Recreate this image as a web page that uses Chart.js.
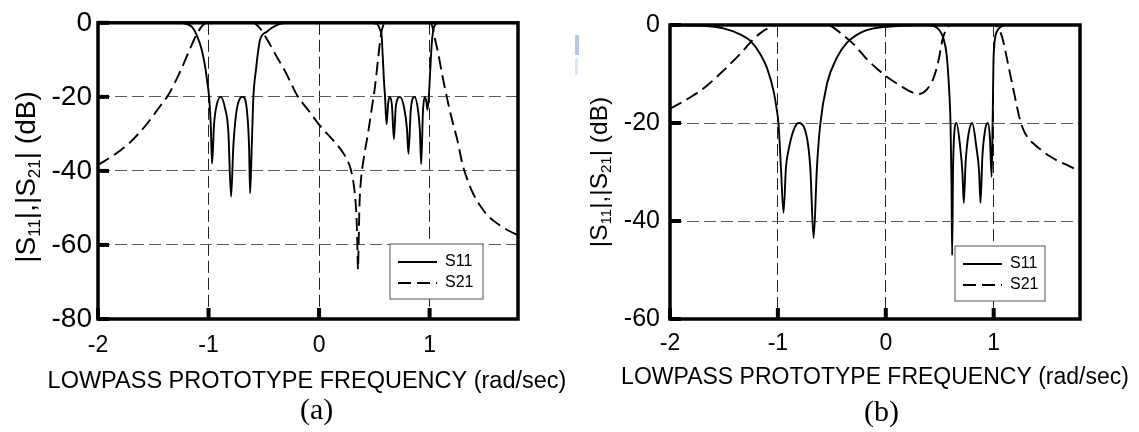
<!DOCTYPE html>
<html lang="en">
<head>
<meta charset="UTF-8">
<title>Lowpass prototype responses</title>
<script src="https://cdn.jsdelivr.net/npm/chart.js"></script>
<style>
  body { margin: 0; background: #fff; }
  #wrap { position: relative; width: 1139px; height: 432px; overflow: hidden; }
  .panel { position: absolute; top: 0; height: 432px; }
  .caption { position: absolute; font-family: "Liberation Serif", "Times New Roman", serif; font-size: 30px; color: #000; line-height: 1; }
  .smudge { position: absolute; }
</style>
</head>
<body>
<div id="wrap">
  <div class="panel" style="left:0;width:570px"><canvas id="chartA" width="570" height="432"></canvas></div>
  <div class="panel" style="left:570px;width:569px"><canvas id="chartB" width="569" height="432"></canvas></div>
  <div class="caption" style="left:300px;top:394px">(a)</div>
  <div class="caption" style="left:864px;top:396px">(b)</div>
  <div class="smudge" style="left:575px;top:35px;width:4px;height:20px;background:#b7c6ea"></div>
  <div class="smudge" style="left:575px;top:58px;width:3px;height:17px;background:#dce4f5"></div>
</div>
<script>
// axis ticks
const xTicks = [-2, -1, 0, 1];
const yTicksA = [0, -20, -40, -60, -80];
const yTicksB = [0, -20, -40, -60];
const xTitle = 'LOWPASS PROTOTYPE FREQUENCY (rad/sec)';

// (a) |S11| in dB
const s11FreqA = [-2, -1.3, -1.23, -1.15, -1.107, -1.062, -1.032, -1.011, -0.995, -0.98, -0.968,
  -0.95, -0.926, -0.89, -0.851, -0.821, -0.796, -0.776, -0.751, -0.715, -0.69, -0.655, -0.633, -0.624,
  -0.609, -0.594, -0.57, -0.549, -0.534, -0.473, -0.383, -0.29, 0.45, 0.522, 0.552, 0.567, 0.576, 0.588,
  0.597, 0.611, 0.626, 0.641, 0.66, 0.677, 0.695, 0.733, 0.77, 0.795, 0.809, 0.83, 0.864, 0.895, 0.912,
  0.924, 0.94, 0.957, 0.972, 0.98, 0.992, 1.005, 1.02, 1.034, 1.059, 1.1, 1.8];
const s11A = [0, 0, -0.1, -1.1, -3.3, -7.2, -11.6, -16, -20, -27.4, -38,
  -27.4, -22.2, -20, -23, -29.2, -47, -33.6, -24.8, -20.4, -20, -23, -33.6, -46,
  -33.5, -20, -12.5, -7.2, -4.6, -2.4, -0.6, 0, 0, -0.3, -1.9, -3.7, -9, -16,
  -20, -27.4, -21.5, -20, -22.5, -31.4, -22.5, -20, -23, -28.5, -35.4, -23.5, -20, -23.5, -29,
  -38.2, -24, -20, -21.5, -23.5, -20.5, -13.4, -5.5, -1.9, -0.3, 0, 0];

// (a) |S21| in dB
const s21FreqA = [-2, -1.86, -1.71, -1.56, -1.44, -1.364, -1.26, -1.17, -1.11, -1.05, -1.0,
  -0.6, -0.534, -0.47, -0.386, -0.3, -0.254, -0.2, -0.09, 0, 0.075, 0.13, 0.206, 0.25, 0.289,
  0.315, 0.331, 0.342, 0.348, 0.352, 0.358, 0.365, 0.375, 0.4, 0.445, 0.475, 0.505, 0.535, 0.556,
  0.575, 0.61, 1.0, 1.025, 1.05, 1.08, 1.11, 1.14, 1.17, 1.21, 1.25, 1.3, 1.35, 1.4, 1.46, 1.52,
  1.58, 1.64, 1.7, 1.76, 1.8];
const s21A = [-38.4, -35.8, -32.3, -27.4, -22.6, -19.5, -13.4, -7.2, -3.3, -0.6, 0,
  0, -1.5, -4.5, -9, -13.5, -16.3, -19.5, -23.9, -27.5, -30, -31.8, -34.6, -36.8, -39.8,
  -44, -48.6, -55, -62, -66.6, -60, -50, -44, -37.5, -29.5, -23.5, -17.5, -9.5, -4,
  -1.2, 0, 0, -1, -4.5, -8.5, -13.4, -17.8, -22, -27, -31.5, -38.5, -43, -46.5, -49.5, -51.9,
  -53.5, -54.8, -55.9, -56.8, -57.4];

// (b) |S11| in dB
const s11FreqB = [-2, -1.8, -1.659, -1.505, -1.35, -1.257, -1.164, -1.102, -1.041, -1.009, -0.994,
  -0.972, -0.948, -0.925, -0.902, -0.855, -0.809, -0.747, -0.7, -0.669, -0.638, -0.607, -0.545,
  -0.452, -0.359, -0.236, -0.112, 0.043, 0.2, 0.35, 0.445, 0.491, 0.532, 0.563, 0.584, 0.6, 0.609,
  0.615, 0.623, 0.635, 0.655, 0.69, 0.71, 0.723, 0.74, 0.765, 0.801, 0.84, 0.865, 0.878, 0.895,
  0.92, 0.946, 0.965, 0.981, 0.99, 1.0, 1.033, 1.064, 1.11, 1.8];
const s11B = [0, -0.1, -0.2, -0.7, -1.9, -3.2, -5.9, -8.7, -13.4, -17.5, -20.2,
  -29, -38.3, -29, -25.6, -21.5, -20, -21.5, -29, -43.5, -29, -20.2, -12,
  -6.6, -3.6, -1.6, -0.7, -0.3, -0.1, 0, -0.2, -0.9, -2.6, -5.9, -12, -20.2, -32.3,
  -47, -30, -22, -20, -25, -30, -36.3, -28, -22.5, -20, -25, -30, -36.3, -27,
  -21.5, -20, -23, -31, -20, -6, -1.2, -0.4, 0, 0];

// (b) |S21| in dB
const s21FreqB = [-2, -1.814, -1.659, -1.505, -1.35, -1.227, -1.134, -1.041, -1.0, -0.6, -0.514,
  -0.422, -0.298, -0.174, 0, 0.136, 0.22, 0.3, 0.383, 0.445, 0.491, 0.523, 0.553, 0.584, 0.6,
  1.0, 1.04, 1.08, 1.14, 1.2, 1.24, 1.28, 1.32, 1.373, 1.45, 1.528, 1.6, 1.683, 1.8];
const s21B = [-17.1, -14.8, -12.4, -9.3, -5.9, -2.9, -1.2, -0.2, 0, 0, -0.2,
  -1.6, -3.9, -7, -10.4, -12.4, -13.5, -14.1, -13.1, -10.7, -7, -3.2, -1.2, -0.2, 0,
  0, -0.5, -2.6, -8.7, -15, -19, -21.6, -23.1, -24.3, -25.7, -26.9, -27.8, -28.6, -29.9];

const FONT = '"Liberation Sans", Arial, sans-serif';
const pairs = (xs, ys) => xs.map((x, i) => ({x: x, y: ys[i]}));

// frame, inner tick marks, boxed legend, axis titles
const framePlugin = {
  id: 'frame',
  afterDraw(chart, args, opts) {
    const {ctx, chartArea: a, scales: {x, y}} = chart;
    ctx.save();
    ctx.fillStyle = '#000';
    x.ticks.forEach(t => {
      const px = x.getPixelForValue(t.value);
      ctx.fillRect(px - 2, a.bottom - 11, 4, 11);
    });
    y.ticks.forEach(t => {
      const py = y.getPixelForValue(t.value);
      ctx.fillRect(a.left, py - 2, 11, 4);
    });
    ctx.lineWidth = 3.5;
    ctx.strokeStyle = '#000';
    ctx.strokeRect(a.left, a.top, a.right - a.left, a.bottom - a.top);

    // legend
    const L = opts.legend;
    ctx.fillStyle = '#fff';
    ctx.fillRect(L.x, L.y, L.w, L.h);
    ctx.lineWidth = 1.2;
    ctx.strokeStyle = '#707070';
    ctx.strokeRect(L.x, L.y, L.w, L.h);
    ctx.font = '16px ' + FONT;
    ctx.textBaseline = 'middle';
    ctx.textAlign = 'left';
    chart.data.datasets.forEach((ds, i) => {
      const ly = L.y + 18 + i * 21;
      ctx.beginPath();
      ctx.setLineDash(ds.borderDash || []);
      ctx.lineWidth = ds.borderWidth;
      ctx.strokeStyle = ds.borderColor;
      ctx.moveTo(L.x + 8, ly);
      ctx.lineTo(L.x + 47, ly);
      ctx.stroke();
      ctx.setLineDash([]);
      ctx.fillStyle = '#000';
      ctx.fillText(ds.label, L.x + 55, ly);
    });

    // x title (drawn here so it is not squeezed to the plot width)
    const X = opts.xTitle;
    ctx.font = X.size + 'px ' + FONT;
    ctx.textAlign = 'center';
    ctx.fillText(xTitle, X.x, X.y);

    // rotated y title: |S11|,|S21| (dB)
    const T = opts.yTitle;
    const parts = [['|S', 0], ['11', 1], ['|,|S', 0], ['21', 1], ['| (dB)', 0]];
    const big = T.size + 'px ' + FONT, small = Math.round(T.size * 0.62) + 'px ' + FONT;
    let total = 0;
    ctx.textAlign = 'left';
    parts.forEach(p => { ctx.font = p[1] ? small : big; total += ctx.measureText(p[0]).width; });
    ctx.translate(T.x, T.y);
    ctx.rotate(-Math.PI / 2);
    ctx.textBaseline = 'alphabetic';
    let cx = -total / 2;
    parts.forEach(p => {
      ctx.font = p[1] ? small : big;
      ctx.fillText(p[0], cx, p[1] ? T.size * 0.55 : T.size * 0.36);
      cx += ctx.measureText(p[0]).width;
    });
    ctx.restore();
  }
};

function makeChart(id, cfg) {
  return new Chart(document.getElementById(id), {
    type: 'line',
    data: {
      datasets: [
        {label: 'S11', data: pairs(cfg.s11x, cfg.s11y), borderColor: '#000', borderWidth: 1.9,
         pointRadius: 0, cubicInterpolationMode: 'monotone'},
        {label: 'S21', data: pairs(cfg.s21x, cfg.s21y), borderColor: '#000', borderWidth: 1.9,
         borderDash: [13, 6], pointRadius: 0, cubicInterpolationMode: 'monotone'}
      ]
    },
    options: {
      responsive: false,
      animation: false,
      events: [],
      layout: {padding: {left: 0, top: cfg.top, right: cfg.right, bottom: 0}},
      plugins: {
        legend: {display: false},
        tooltip: {enabled: false},
        frame: {legend: cfg.legend, xTitle: cfg.xTitle, yTitle: cfg.yTitle}
      },
      scales: {
        x: {
          type: 'linear', min: -2, max: 1.8,
          afterBuildTicks: s => { s.ticks = xTicks.map(v => ({value: v})); },
          afterFit: s => { s.height = 113; },
          grid: {color: '#222', lineWidth: 1, drawTicks: false},
          border: {display: false, dash: [12, 5]},
          ticks: {color: '#000', font: {family: FONT, size: 23}, padding: cfg.xPad, maxRotation: 0}
        },
        y: {
          type: 'linear', min: cfg.yTicks[cfg.yTicks.length - 1], max: 0,
          afterBuildTicks: s => { s.ticks = cfg.yTicks.map(v => ({value: v})); },
          afterFit: s => { s.width = cfg.left; },
          grid: {color: '#5a5a5a', lineWidth: 1, drawTicks: false},
          border: {display: false, dash: [12, 5]},
          ticks: {color: '#000', font: {family: FONT, size: cfg.yFont}, padding: cfg.yPad}
        }
      }
    },
    plugins: [framePlugin]
  });
}

makeChart('chartA', {
  s11x: s11FreqA, s11y: s11A, s21x: s21FreqA, s21y: s21A, yTicks: yTicksA,
  top: 16, right: 52, left: 98, xPad: 13, yPad: 6, yFont: 28,
  legend: {x: 390, y: 244, w: 93, h: 55},
  xTitle: {x: 307, y: 382, size: 23.5},
  yTitle: {x: 25, y: 177, size: 28}
});

makeChart('chartB', {
  s11x: s11FreqB, s11y: s11B, s21x: s21FreqB, s21y: s21B, yTicks: yTicksB,
  top: 24, right: 59, left: 100, xPad: 11, yPad: 10, yFont: 25,
  legend: {x: 385, y: 246, w: 90, h: 55},
  xTitle: {x: 305, y: 378, size: 23},
  yTitle: {x: 28, y: 172, size: 24.5}
});
</script>
</body>
</html>
